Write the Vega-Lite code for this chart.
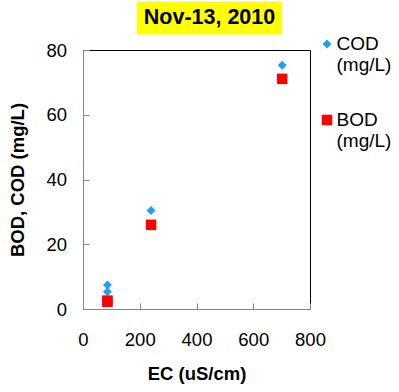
{
  "$schema": "https://vega.github.io/schema/vega-lite/v6.json",
  "padding": {"left": 8, "top": 2, "right": 0, "bottom": 0},
  "background": "white",
  "bounds": "flush",
  "spacing": 48,
  "vconcat": [
    {
      "spacing": 0,
      "bounds": "flush",
      "hconcat": [
        {
          "width": 53.5,
          "height": 32.5,
          "view": {"fill": null, "stroke": null},
          "data": {"values": [{"t": ""}]},
          "mark": {"type": "text", "fontSize": 1},
          "encoding": {"text": {"field": "t", "type": "nominal"}}
        },
        {
          "width": 145,
          "height": 32.5,
          "view": {"fill": "#FFFF00", "stroke": null},
          "data": {"values": [{"t": "Nov-13, 2010"}]},
          "mark": {"type": "text", "font": "Liberation Sans", "fontSize": 21.5, "fontWeight": "bold", "color": "#000000"},
          "encoding": {"text": {"field": "t", "type": "nominal"}}
        }
      ]
    },
    {
      "width": 227,
      "height": 259,
      "view": {"stroke": "#000000", "strokeWidth": 1, "fill": "white"},
      "data": {
        "values": [
          {"param": "COD", "ec": 86, "value": 7.4},
          {"param": "COD", "ec": 86, "value": 5.3},
          {"param": "COD", "ec": 240, "value": 30.4},
          {"param": "COD", "ec": 702, "value": 75.3},
          {"param": "BOD", "ec": 86, "value": 2.6},
          {"param": "BOD", "ec": 86, "value": 2.2},
          {"param": "BOD", "ec": 240, "value": 26.0},
          {"param": "BOD", "ec": 702, "value": 71.1}
        ]
      },
      "mark": {"type": "point", "filled": true, "opacity": 1, "strokeWidth": 0},
      "encoding": {
        "x": {
          "field": "ec", "type": "quantitative",
          "scale": {"domain": [0, 800], "nice": false, "zero": false},
          "axis": {"values": [0, 200, 400, 600, 800], "title": "EC (uS/cm)", "labelPadding": 27.3, "titlePadding": 15.7}
        },
        "y": {
          "field": "value", "type": "quantitative",
          "scale": {"domain": [0, 80], "nice": false, "zero": false},
          "axis": {"values": [0, 20, 40, 60, 80], "title": "BOD, COD (mg/L)", "labelPadding": 22.5, "titlePadding": 18}
        },
        "color": {
          "field": "param", "type": "nominal",
          "scale": {"domain": ["COD", "BOD"], "range": ["#20A0F0", "#FF0000"]},
          "legend": {
            "orient": "none", "legendX": 234.5, "legendY": 32.5,
            "title": null,
            "padding": 0,
            "labelExpr": "[datum.label, '(mg/L)']",
            "labelFont": "Liberation Sans", "labelFontSize": 19, "labelColor": "#000000",
            "labelOffset": 0,
            "rowPadding": 35,
            "labelLimit": 200,
            "encode": {"labels": {"update": {"lineHeight": {"value": 23}, "dy": {"value": 11.5}}}}
          }
        },
        "shape": {
          "field": "param", "type": "nominal",
          "scale": {"domain": ["COD", "BOD"], "range": ["diamond", "square"]}
        },
        "size": {
          "field": "param", "type": "nominal",
          "scale": {"domain": ["COD", "BOD"], "range": [80, 110]}
        }
      }
    }
  ],
  "config": {
    "font": "Liberation Sans",
    "axis": {
      "grid": false,
      "labelFlush": false,
      "domainColor": "#868686",
      "domainWidth": 1,
      "tickColor": "#868686",
      "tickSize": -6,
      "labelFont": "Liberation Sans",
      "labelFontSize": 18.5,
      "labelColor": "#000000",
      "labelAngle": 0,
      "titleFont": "Liberation Sans",
      "titleFontSize": 18.5,
      "titleFontWeight": "bold",
      "titleColor": "#000000"
    },
    "legend": {"symbolStrokeWidth": 0}
  }
}
